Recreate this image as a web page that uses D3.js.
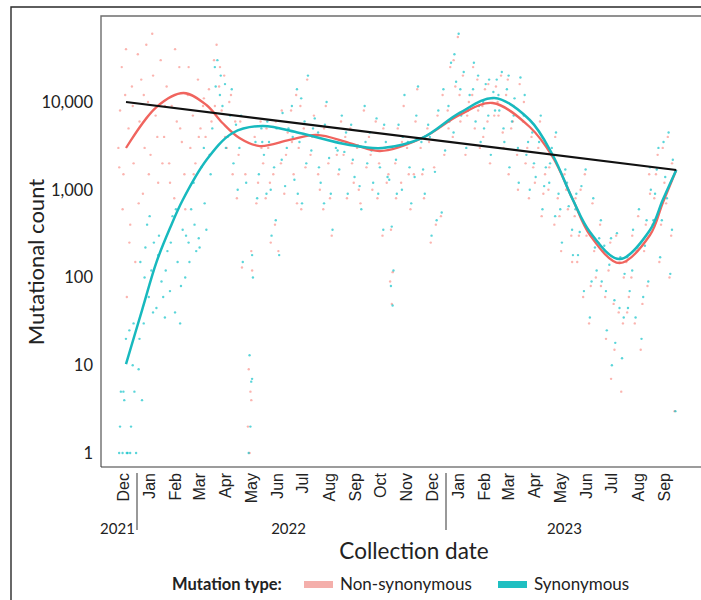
<!DOCTYPE html>
<html><head><meta charset="utf-8">
<script src="https://cdn.jsdelivr.net/npm/d3@7"></script>
<style>body{margin:0;background:#fff}svg{display:block;font-family:Lato,"Open Sans",sans-serif}</style>
</head><body><svg id="c" width="701" height="600"></svg>
<script>
// ---- data ----
const monthLabels = ["Dec","Jan","Feb","Mar","Apr","May","Jun","Jul","Aug","Sep","Oct","Nov","Dec","Jan","Feb","Mar","Apr","May","Jun","Jul","Aug","Sep"];
const monthStart = "2021-12-01";
const yearLabels = ["2021","2022","2023"];
const yearLabelDates = ["2021-12-09","2022-06-29","2023-05-21"];
const yearBreaks = ["2022-01-01","2023-01-01"];
const yTicks = [1,10,100,1000,10000];

const ptDates = [
 "2021-12-10","2021-12-12","2021-12-14","2021-12-16","2021-12-18","2021-12-20","2021-12-22","2021-12-24","2021-12-26","2021-12-28","2021-12-30",
 "2022-01-02","2022-01-04","2022-01-06","2022-01-08","2022-01-10","2022-01-12","2022-01-14","2022-01-17","2022-01-20","2022-01-23","2022-01-26","2022-01-29",
 "2022-02-02","2022-02-05","2022-02-08","2022-02-11","2022-02-14","2022-02-17","2022-02-20","2022-02-23","2022-02-26",
 "2022-03-02","2022-03-05","2022-03-08","2022-03-11","2022-03-14","2022-03-17","2022-03-20","2022-03-23","2022-03-27","2022-03-30",
 "2022-04-02","2022-04-05","2022-04-08","2022-04-11","2022-04-14","2022-04-17","2022-04-20","2022-04-24","2022-04-27",
 "2022-05-01","2022-05-05","2022-05-13","2022-05-14","2022-05-15","2022-05-16","2022-05-17","2022-05-20","2022-05-24","2022-05-27","2022-05-30",
 "2022-06-02","2022-06-05","2022-06-08","2022-06-11","2022-06-14","2022-06-17","2022-06-20","2022-06-24","2022-06-28",
 "2022-07-02","2022-07-05","2022-07-08","2022-07-11","2022-07-14","2022-07-17","2022-07-21","2022-07-25","2022-07-29",
 "2022-08-02","2022-08-05","2022-08-09","2022-08-12","2022-08-15","2022-08-19","2022-08-23","2022-08-27","2022-08-30",
 "2022-09-02","2022-09-06","2022-09-10","2022-09-14","2022-09-18","2022-09-22","2022-09-26","2022-09-29",
 "2022-10-02","2022-10-06","2022-10-10","2022-10-14","2022-10-18","2022-10-21","2022-10-25","2022-10-27","2022-10-28","2022-10-29","2022-10-30",
 "2022-11-02","2022-11-05","2022-11-09","2022-11-12","2022-11-16","2022-11-20","2022-11-24","2022-11-28",
 "2022-12-02","2022-12-06","2022-12-10","2022-12-14","2022-12-18","2022-12-22","2022-12-26","2022-12-30",
 "2023-01-03","2023-01-06","2023-01-09","2023-01-12","2023-01-15","2023-01-18","2023-01-21","2023-01-24","2023-01-28",
 "2023-02-01","2023-02-04","2023-02-07","2023-02-10","2023-02-13","2023-02-16","2023-02-19","2023-02-22","2023-02-25",
 "2023-03-01","2023-03-04","2023-03-07","2023-03-10","2023-03-13","2023-03-16","2023-03-19","2023-03-22","2023-03-26","2023-03-29",
 "2023-04-02","2023-04-05","2023-04-09","2023-04-12","2023-04-16","2023-04-20","2023-04-24","2023-04-28",
 "2023-05-02","2023-05-05","2023-05-09","2023-05-13","2023-05-17","2023-05-21","2023-05-25","2023-05-29",
 "2023-06-02","2023-06-05","2023-06-09","2023-06-12","2023-06-16","2023-06-19","2023-06-23","2023-06-27","2023-06-30",
 "2023-07-03","2023-07-06","2023-07-09","2023-07-12","2023-07-15","2023-07-18","2023-07-21","2023-07-24","2023-07-27","2023-07-30",
 "2023-08-02","2023-08-05","2023-08-09","2023-08-12","2023-08-16","2023-08-19","2023-08-23","2023-08-27","2023-08-30",
 "2023-09-02","2023-09-06","2023-09-10","2023-09-14","2023-09-18","2023-09-20","2023-09-22","2023-09-25","2023-09-28",
 "2021-12-11","2021-12-15","2021-12-19","2021-12-23","2021-12-27",
 "2022-01-03","2022-01-09","2022-01-15","2022-01-19","2022-01-25","2022-01-31",
 "2022-02-03","2022-02-09","2022-02-15","2022-02-21","2022-02-27",
 "2022-03-03","2022-03-09","2022-03-15","2022-03-21","2022-03-28",
 "2022-04-03","2022-04-09","2022-04-15","2022-04-22","2022-04-29",
 "2022-05-03","2022-05-09","2022-05-12","2022-05-16","2022-05-22","2022-05-28",
 "2022-06-03","2022-06-07","2022-06-13","2022-06-21","2022-06-26",
 "2022-07-03","2022-07-09","2022-07-13","2022-07-19","2022-07-27",
 "2022-08-03","2022-08-10","2022-08-17","2022-08-25",
 "2022-09-04","2022-09-12","2022-09-20","2022-09-27",
 "2022-10-04","2022-10-12","2022-10-19","2022-10-23",
 "2022-11-03","2022-11-10","2022-11-18","2022-11-26",
 "2022-12-04","2022-12-12","2022-12-20","2022-12-28",
 "2023-01-04","2023-01-10","2023-01-17","2023-01-26",
 "2023-02-02","2023-02-08","2023-02-14","2023-02-20","2023-02-27",
 "2023-03-03","2023-03-09","2023-03-15","2023-03-21","2023-03-27",
 "2023-04-03","2023-04-07","2023-04-14","2023-04-22","2023-04-26",
 "2023-05-03","2023-05-10","2023-05-15","2023-05-23","2023-05-30",
 "2023-06-03","2023-06-07","2023-06-14","2023-06-21","2023-06-25",
 "2023-07-02","2023-07-08","2023-07-14","2023-07-19","2023-07-25","2023-07-29",
 "2023-08-03","2023-08-08","2023-08-14","2023-08-21","2023-08-25","2023-08-29",
 "2023-09-04","2023-09-08","2023-09-12","2023-09-16","2023-09-24"
];
const ptNonSyn = [
 3000,8000,25000,1500,12000,60,5000,400,15000,2000,150,
 35000,6000,18000,900,3000,45000,10000,2500,20000,7000,1200,30000,
 4000,15000,2000,9000,800,6000,25000,3500,1500,
 12000,3000,7000,2000,18000,5000,9000,4000,14000,6000,
 30000,45000,15000,8000,20000,3000,10000,1500,6000,
 2500,130,9,1,5,4,120,4000,1200,6000,2000,
 800,3000,250,1500,6000,200,2000,900,4500,
 8000,1500,12000,3000,600,5000,18000,2500,7000,
 4000,1000,600,9000,2000,300,3500,1500,6000,
 2500,800,5000,1200,3000,700,8000,1800,
 4000,1000,6000,2000,300,3000,1500,90,350,50,115,
 2000,5000,1200,9000,3000,600,1500,14000,
 3000,800,5000,250,1800,7000,500,2500,
 8000,25000,4000,15000,55000,6000,20000,2500,10000,
 12000,5000,18000,3000,9000,14000,6000,2000,11000,
 15000,7000,20000,3000,12000,1500,5000,9000,2500,16000,
 6000,2000,800,4000,1200,3000,500,1500,
 1000,2500,400,800,200,1500,600,300,
 500,150,1000,60,300,30,700,100,250,
 80,200,20,120,7,50,300,40,5,100,
 150,60,300,30,500,15,200,80,900,
 400,1500,150,3000,700,4000,100,2000,3,
 1800,600,40000,250,9000,
 700,12000,1500,60000,4000,2000,
 9000,1200,40000,5000,600,
 25000,1500,4000,11000,2500,
 9000,25000,4000,12000,800,
 6000,1500,2,200,700,3000,
 5000,1200,400,8000,2500,
 3500,700,9000,1800,4000,
 1500,5000,800,2500,
 4000,2000,1000,3000,
 2500,800,5000,1200,
 800,3500,1500,6000,
 1500,3500,400,12000,
 5000,30000,12000,7000,
 25000,8000,4000,16000,7000,
 10000,4500,18000,6000,1000,
 10000,3000,1800,6000,900,
 1800,4000,500,1000,150,
 800,300,1500,80,200,
 400,60,250,15,150,30,
 40,100,200,50,400,1500,
 800,2500,400,1200,300
];
const ptSyn = [
 1,5,1,4,20,1,25,2,10,5,1,
 9,150,4,30,220,400,60,120,250,45,300,90,
 35,200,70,500,40,150,30,350,100,
 250,600,1200,200,280,1800,3000,350,2500,5000,
 25000,30000,12000,9000,16000,4000,7000,2000,5500,
 3000,150,13,2,6.5,7,100,3500,1500,5000,2500,
 900,3500,300,1800,5000,180,2200,1100,5000,
 9000,1300,14000,3500,700,6000,20000,2800,6500,
 4500,1200,700,10000,2300,350,3000,1700,7000,
 2700,900,5500,1400,3200,600,9000,2000,
 4500,1200,6500,1800,350,3500,1300,80,380,48,120,
 2200,5500,1000,12000,3500,700,1400,15000,
 3500,900,5500,300,1600,8000,550,2800,
 9000,28000,4500,17000,60000,7000,22000,3000,12000,
 14000,6000,20000,3500,10000,16000,7000,2500,13000,
 18000,8000,22000,3500,14000,1800,6000,11000,3000,19000,
 7000,2500,1000,4500,1400,3500,600,1800,
 1200,3000,500,900,250,1700,650,350,
 600,180,1100,70,350,35,800,120,280,
 90,230,25,140,10,55,320,45,12,110,
 170,70,350,35,600,20,230,90,1000,
 450,1700,170,3500,800,4500,110,2200,3,
 2,5,1,1,30,
 20,100,500,40,180,60,
 120,250,600,80,300,
 150,400,220,700,1500,
 15000,20000,3000,14000,1000,
 7000,1200,1,180,800,3500,
 6000,1000,450,7500,3000,
 4000,900,11000,2000,5000,
 1800,5500,900,2800,
 4500,2200,1100,3500,
 2800,900,5500,1400,
 900,4000,1800,7000,
 1700,4000,450,14000,
 6000,35000,14000,8000,
 28000,9000,5000,18000,8000,
 12000,5000,20000,7000,1200,
 12000,3500,2000,7000,1100,
 2000,4500,600,1200,180,
 900,330,1700,90,220,
 450,70,280,18,170,35,
 45,120,220,60,450,1800,
 900,3000,450,1400,350
];

// smooth fits (knots)
const nsCurveDates = ["2021-12-19","2022-01-24","2022-02-25","2022-03-24","2022-04-12","2022-05-02","2022-05-26","2022-06-30","2022-08-01","2022-09-09","2022-10-15","2022-12-04","2023-01-17","2023-02-25","2023-04-10","2023-05-07","2023-05-31","2023-06-20","2023-07-25","2023-08-30","2023-09-14","2023-09-30"];
const nsCurveVals  = [2990,8770,12670,9240,5770,3890,3150,3690,4210,3410,2765,3890,7110,9740,5190,2360,764,305,146,305,706,1680];
const sCurveDates  = ["2021-12-19","2022-01-07","2022-01-24","2022-02-09","2022-02-24","2022-03-24","2022-04-24","2022-05-29","2022-07-12","2022-09-09","2022-10-18","2022-12-04","2023-01-17","2023-02-27","2023-04-10","2023-05-07","2023-05-31","2023-06-20","2023-07-25","2023-08-30","2023-09-14","2023-09-30"];
const sCurveVals   = [10.3,42.6,150,366,764,2183,4435,5330,4435,3236,2990,3890,7500,11110,6235,2489,764,330,162,348,764,1680];
const trendDates = ["2021-12-19","2023-09-30"];
const trendVals  = [10000,1680];

const seriesNames = ["Non-synonymous","Synonymous"];
const legendTitle = "Mutation type:";

// ---- drawing ----
const P = d3.timeParse("%Y-%m-%d");
const svg = d3.select("#c");
const x = d3.scaleTime().domain([P("2022-01-01"),P("2023-01-01")]).range([137,446]);
const y = d3.scaleLog().domain([1,10000]).range([453,102]);
const red = "#F0645E", teal = "#17B9BE";

// frames
svg.append("path").attr("d","M11,600V7H701").attr("fill","none").attr("stroke","#2a2a2a").attr("stroke-width",1.4);
svg.append("path").attr("d","M101,467V16H701").attr("fill","none").attr("stroke","#6d6d6d").attr("stroke-width",1.4);
svg.append("path").attr("d","M101,467H701").attr("fill","none").attr("stroke","#3a3a3a").attr("stroke-width",1.2);

// points
const pts = ptDates.map((d,i)=>({d:P(d),ns:ptNonSyn[i],s:ptSyn[i]}));
const gp = svg.append("g");
gp.selectAll(".pn").data(pts).join("circle").attr("cx",d=>x(d.d)).attr("cy",d=>y(d.ns)).attr("r",1.2).attr("fill","#F8766D").attr("opacity",0.55);
gp.selectAll(".ps").data(pts).join("circle").attr("cx",d=>x(d.d)+0.8).attr("cy",d=>y(d.s)).attr("r",1.2).attr("fill","#00BFC4").attr("opacity",0.65);

// lines
const line = d3.line().x(d=>x(d[0])).y(d=>y(d[1])).curve(d3.curveCatmullRom.alpha(0.5));
svg.append("path").datum(nsCurveDates.map((d,i)=>[P(d),nsCurveVals[i]])).attr("d",line).attr("fill","none").attr("stroke",red).attr("stroke-width",2.3);
svg.append("path").datum(sCurveDates.map((d,i)=>[P(d),sCurveVals[i]])).attr("d",line).attr("fill","none").attr("stroke",teal).attr("stroke-width",2.5);
svg.append("path").datum(trendDates.map((d,i)=>[P(d),trendVals[i]])).attr("d",d3.line().x(d=>x(d[0])).y(d=>y(d[1]))).attr("fill","none").attr("stroke","#111").attr("stroke-width",2.2);

// y axis
const ya = svg.append("g").attr("transform","translate(101,0)").call(d3.axisLeft(y).tickValues(yTicks).tickSize(0).tickPadding(8).tickFormat(d3.format(",")));
ya.select(".domain").remove();
ya.selectAll("text").attr("font-size",16.5).attr("fill","#222").attr("font-family","Lato");
svg.append("text").attr("transform","translate(44,262) rotate(-90)").attr("text-anchor","middle").attr("font-size",22).attr("fill","#222").text("Mutational count");

// x axis (months at mid-month)
const months = d3.timeMonth.range(P(monthStart), d3.timeMonth.offset(P(monthStart), monthLabels.length));
const mids = months.map(m=>d3.timeDay.offset(m,14));
const xa = svg.append("g").attr("transform","translate(0,467)").call(d3.axisBottom(x).tickValues(mids).tickSize(0).tickPadding(0).tickFormat((d,i)=>monthLabels[i]));
xa.select(".domain").remove();
xa.selectAll("text").attr("transform","rotate(-90)").attr("text-anchor","end").attr("x",-6).attr("y",0).attr("dy","0.36em").attr("font-size",16).attr("fill","#222");

yearBreaks.forEach(b=>svg.append("line").attr("x1",x(P(b))).attr("x2",x(P(b))).attr("y1",473).attr("y2",530).attr("stroke","#999").attr("stroke-width",2));
svg.selectAll(".yl").data(yearLabels).join("text").attr("x",(d,i)=>x(P(yearLabelDates[i]))).attr("y",534).attr("text-anchor","middle").attr("font-size",15).attr("fill","#222").text(d=>d);
svg.append("text").attr("x",414).attr("y",559).attr("text-anchor","middle").attr("font-size",22.5).attr("fill","#222").text("Collection date");

// legend
const lg = svg.append("g");
lg.append("text").attr("x",172).attr("y",590).attr("font-size",16.5).attr("font-weight","bold").attr("fill","#222").text(legendTitle);
const sw = [[304,"#F4AFAB"],[498,"#1FBFC1"]];
seriesNames.forEach((n,i)=>{
  lg.append("rect").attr("x",sw[i][0]).attr("y",581).attr("width",29).attr("height",7).attr("fill",sw[i][1]);
  lg.append("text").attr("x",sw[i][0]+36).attr("y",590).attr("font-size",17).attr("fill","#222").text(n);
});
</script></body></html>
